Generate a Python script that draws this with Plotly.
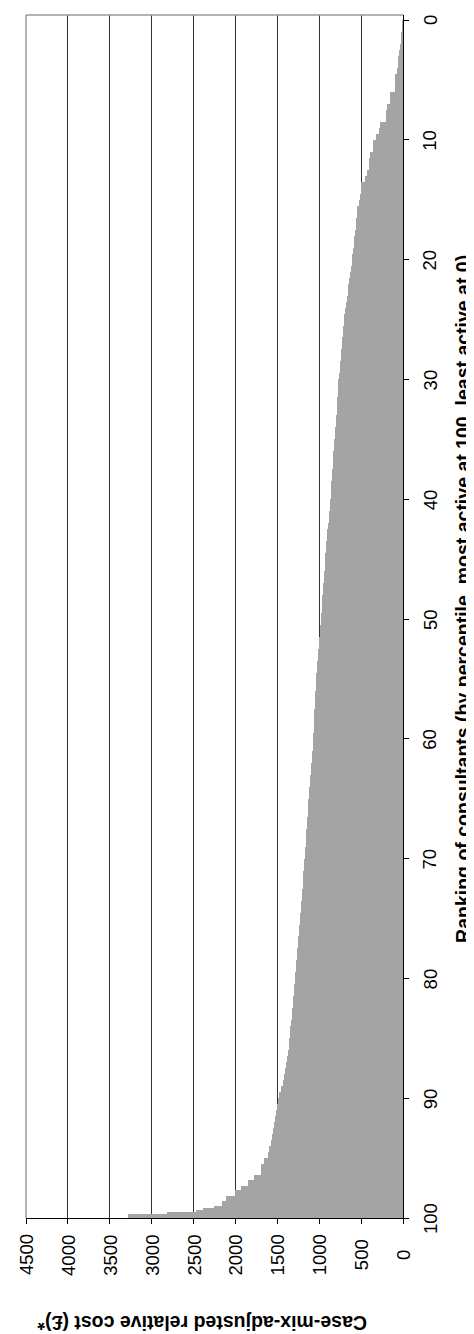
import plotly.graph_objects as go

# Lower bound (percentile) of each consultant group and its case-mix-adjusted relative cost (£)
pct_lower = [i * 0.5 for i in range(192)] + [
    96.0, 96.4, 96.85, 97.3, 97.7, 98.2, 98.6, 98.97, 99.2, 99.4, 99.55, 99.7]
pct_upper_end = 100.0

cost = [
    3, 6, 28, 28, 30, 52, 56, 62, 68, 90, 94, 98,
    155, 160, 195, 199, 202, 279, 285, 318, 358, 362, 398, 400,
    405, 427, 458, 498, 505, 515, 525, 546, 553, 560, 567, 574,
    581, 588, 596, 604, 612, 622, 632, 642, 652, 662, 672, 684,
    692, 700, 708, 714, 720, 726, 732, 738, 745, 752, 758, 765,
    770, 774, 778, 782, 786, 790, 796, 802, 808, 814, 820, 825,
    830, 835, 840, 845, 850, 855, 859, 863, 867, 874, 881, 888,
    895, 902, 908, 914, 920, 927, 932, 937, 942, 947, 952, 957,
    962, 966, 970, 975, 980, 986, 992, 998, 1004, 1010, 1016, 1022,
    1028, 1034, 1038, 1042, 1046, 1050, 1054, 1057, 1060, 1063, 1066, 1070,
    1074, 1080, 1086, 1092, 1098, 1104, 1110, 1115, 1120, 1125, 1130, 1134,
    1139, 1144, 1148, 1153, 1158, 1163, 1168, 1173, 1178, 1183, 1188, 1193,
    1198, 1203, 1208, 1214, 1220, 1226, 1232, 1238, 1244, 1250, 1257, 1264,
    1270, 1275, 1280, 1285, 1290, 1297, 1304, 1311, 1318, 1324, 1330, 1337,
    1344, 1350, 1356, 1366, 1377, 1388, 1399, 1410, 1422, 1436, 1452, 1475,
    1495, 1510, 1518, 1528, 1538, 1550, 1562, 1576, 1605, 1615, 1660, 1690,
    1700, 1780, 1850, 1932, 2011, 2110, 2165, 2259, 2390, 2470, 2817, 3280,
]

cost_ticks = [4500, 4000, 3500, 3000, 2500, 2000, 1500, 1000, 500, 0]
pct_ticks = [0, 10, 20, 30, 40, 50, 60, 70, 80, 90, 100]

x_title = "Case-mix-adjusted relative cost (£)*"
y_title = "Ranking of consultants (by percentile, most active at 100, least active at 0)"

uppers = pct_lower[1:] + [pct_upper_end]
centers = [(a + b) / 2 for a, b in zip(pct_lower, uppers)]
widths = [b - a for a, b in zip(pct_lower, uppers)]

FONT = "Liberation Sans, Arial, sans-serif"
TICK_FONT = dict(family=FONT, size=18.5, color="black")
TITLE_FONT = dict(family=FONT, size=19.5, color="black", weight="bold")

fig = go.Figure()
fig.add_trace(go.Bar(
    x=cost, y=centers, width=widths, orientation="h",
    marker=dict(color="#a4a4a4", line=dict(width=0)),
    hoverinfo="skip", showlegend=False,
))

annotations = []
# cost tick labels (below the bottom axis, rotated)
for v in cost_ticks:
    annotations.append(dict(
        text=str(v), xref="x", yref="paper", x=v, y=-0.0308,
        xanchor="center", yanchor="middle", textangle=-90, showarrow=False,
        font=TICK_FONT))
# percentile tick labels (right of the right axis, rotated)
for v in pct_ticks:
    annotations.append(dict(
        text=str(v), xref="paper", yref="y", x=1.0716, y=v,
        xanchor="center", yanchor="middle", textangle=-90, showarrow=False,
        font=TICK_FONT))
annotations += [
    dict(text=y_title, xref="paper", yref="paper", x=1.1592, y=0.5146,
         xanchor="center", yanchor="middle", textangle=-90, showarrow=False,
         borderpad=0, font=TITLE_FONT),
    dict(text=x_title, xref="paper", yref="paper", x=0.4668, y=-0.0873,
         xanchor="center", yanchor="middle", textangle=180, showarrow=False,
         borderpad=0, font=TITLE_FONT),
]

fig.update_layout(
    width=474, height=1334,
    margin=dict(l=18, r=79, t=7, b=124),
    paper_bgcolor="white", plot_bgcolor="white",
    bargap=0,
    font=dict(family=FONT, size=18, color="black"),
    xaxis=dict(
        range=[4500, 0], tickvals=cost_ticks, showticklabels=False,
        ticks="outside", ticklen=5, tickcolor="black", tickwidth=1,
        showline=True, linecolor="black", linewidth=1,
        showgrid=True, gridcolor="#333333", gridwidth=1,
        zeroline=False, automargin=False,
    ),
    yaxis=dict(
        range=[100, -0.42], tickvals=pct_ticks, showticklabels=False,
        side="right", ticks="outside", ticklen=5,
        tickcolor="black", tickwidth=1,
        showline=True, linecolor="black", linewidth=1,
        showgrid=False, zeroline=False, automargin=False,
    ),
    shapes=[
        dict(type="line", xref="paper", yref="paper", x0=0, x1=0, y0=0, y1=1,
             line=dict(color="#9a9a9a", width=1.5), layer="above"),
        dict(type="line", xref="paper", yref="paper", x0=0, x1=1, y0=1, y1=1,
             line=dict(color="#9a9a9a", width=1.5), layer="above"),
    ],
    annotations=annotations,
)

fig.write_html("out.html")
